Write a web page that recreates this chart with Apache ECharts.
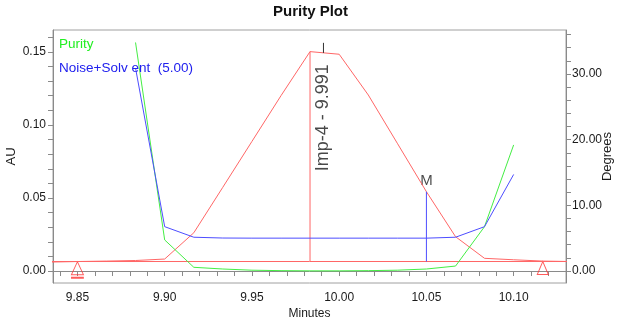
<!DOCTYPE html>
<html>
<head>
<meta charset="utf-8">
<script src="https://cdn.jsdelivr.net/npm/echarts@6/dist/echarts.min.js"></script>
<style>html,body{margin:0;padding:0;background:#fff}#c{width:621px;height:323px}</style>
</head>
<body>
<div id="c"></div>
<script>
// ---- data ----
const times = [9.8333, 9.85, 9.8667, 9.8833, 9.90, 9.9167, 9.9333, 9.95, 9.9667, 9.9833, 10.00, 10.0167, 10.0333, 10.05, 10.0667, 10.0833, 10.10, 10.1167, 10.1333];
const chromAU = [0.0061, 0.0065, 0.0068, 0.0072, 0.0082, 0.0262, 0.0573, 0.0887, 0.1201, 0.1502, 0.1484, 0.1205, 0.0875, 0.0543, 0.0235, 0.0087, 0.0077, 0.0068, 0.0065];
const purityTimes = [9.8833, 9.90, 9.9167, 9.9333, 9.95, 9.9667, 9.9833, 10.00, 10.0167, 10.0333, 10.05, 10.0667, 10.0833, 10.10];
const purityDeg = [34.8, 4.73, 0.56, 0.3, 0.12, 0.05, 0.02, 0.02, 0.05, 0.12, 0.3, 0.75, 6.75, 19.2];
const noiseDeg = [30.9, 6.75, 5.14, 5.02, 5.0, 5.0, 5.0, 5.0, 5.0, 5.0, 5.0, 5.14, 6.75, 14.7];
const baselineAU = 0.0065;
const peakStart = 9.85, peakEnd = 10.1167;
const apexTime = 9.9833;
const markTime = 10.05;
const peakName = 'Imp-4', peakRT = 9.991;
const peakLabelAU = 0.105, peakTickAU = [0.1493, 0.1562];
const xLabels = [9.85, 9.90, 9.95, 10.00, 10.05, 10.10];
const xTicks = [9.84,9.85,9.86,9.87,9.88,9.89,9.90,9.91,9.92,9.93,9.94,9.95,9.96,9.97,9.98,9.99,10.00,10.01,10.02,10.03,10.04,10.05,10.06,10.07,10.08,10.09,10.10,10.11,10.12,10.13];
const auLabels = [0.00, 0.05, 0.10, 0.15];
const auTicks = [0.00,0.01,0.02,0.03,0.04,0.05,0.06,0.07,0.08,0.09,0.10,0.11,0.12,0.13,0.14,0.15,0.16];
const degLabels = [0, 10, 20, 30];
const degTicks = [0,2,4,6,8,10,12,14,16,18,20,22,24,26,28,30,32,34,36];

// ---- chart ----
const narrow = "'Liberation Sans Narrow','Arial Narrow','Liberation Sans',Arial,sans-serif";
const reg = "'Liberation Sans',Arial,sans-serif";
const RED = '#ff6666', GREEN = '#44ee44', BLUE = '#4d4dff', AXIS = '#8a8a8a', TXT = '#1a1a1a';
const zip = (a, b) => a.map((v, i) => [v, b[i]]);
const auAt = t => chromAU[times.indexOf(t)];

const chart = echarts.init(document.getElementById('c'), null, {renderer: 'canvas'});
chart.setOption({
  animation: false,
  backgroundColor: '#fff',
  title: {text: 'Purity Plot', left: 'center', top: 4, padding: 0,
    textStyle: {fontFamily: narrow, fontSize: 15, fontWeight: 'bold', color: '#111'}},
  legend: {orient: 'vertical', left: 54, top: 37, padding: 0, itemGap: 10, itemWidth: 0, itemHeight: 0, icon: 'none',
    selectedMode: false,
    textStyle: {fontFamily: narrow, fontSize: 13.5},
    data: [{name: 'Purity', textStyle: {color: '#22ee22'}},
           {name: 'Noise+Solv ent  (5.00)', textStyle: {color: '#2020ee'}}]},
  grid: {left: 53, right: 55, top: 30, bottom: 40, outerBoundsMode: 'none', containLabel: false,
    show: true, borderColor: '#a0a0a0', borderWidth: 1, backgroundColor: 'transparent'},
  xAxis: {type: 'value', min: 9.836, max: 10.13,
    axisLine: {show: true, lineStyle: {color: AXIS}},
    axisTick: {show: true, customValues: xTicks, length: 5, lineStyle: {color: AXIS}},
    axisLabel: {customValues: xLabels, formatter: v => v.toFixed(2), margin: 9, fontSize: 12, color: TXT, fontFamily: narrow},
    splitLine: {show: false},
    name: 'Minutes', nameLocation: 'middle', nameGap: 25, nameMoveOverlap: false,
    nameTextStyle: {fontFamily: narrow, fontSize: 12, color: TXT}},
  yAxis: [
    {type: 'value', position: 'left', min: -0.0082, max: 0.165,
     axisLine: {show: true, lineStyle: {color: AXIS}},
     axisTick: {show: true, customValues: auTicks, length: 5, lineStyle: {color: AXIS}},
     axisLabel: {customValues: auLabels, formatter: v => v.toFixed(2), margin: 7, fontSize: 12, color: TXT, fontFamily: narrow},
     splitLine: {show: false},
     name: 'AU', nameLocation: 'middle', nameRotate: 90, nameGap: 35, nameMoveOverlap: false,
     nameTextStyle: {fontFamily: reg, fontSize: 13, color: TXT}},
    {type: 'value', position: 'right', min: -1.83, max: 36.7,
     axisLine: {show: true, lineStyle: {color: AXIS}},
     axisTick: {show: true, customValues: degTicks, length: 5, lineStyle: {color: AXIS}},
     axisLabel: {customValues: degLabels, formatter: v => v.toFixed(2), margin: 6, fontSize: 12, color: TXT, fontFamily: narrow},
     splitLine: {show: false},
     name: 'Degrees', nameLocation: 'middle', nameRotate: 90, nameGap: 35, nameMoveOverlap: false,
     nameTextStyle: {fontFamily: reg, fontSize: 13, color: TXT}}
  ],
  series: [
    {name: 'Baseline', type: 'line', yAxisIndex: 0, symbol: 'none', silent: true,
     data: [[times[0], baselineAU], [times[times.length - 1], baselineAU]],
     lineStyle: {color: RED, width: 1}},
    {name: 'Chromatogram', type: 'line', yAxisIndex: 0, symbol: 'none',
     data: zip(times, chromAU), lineStyle: {color: RED, width: 1}},
    {name: 'Apex', type: 'line', yAxisIndex: 0, symbol: 'none',
     data: [[apexTime, baselineAU], [apexTime, auAt(apexTime)]], lineStyle: {color: RED, width: 1}},
    {name: 'Purity', type: 'line', yAxisIndex: 1, symbol: 'none', color: GREEN,
     data: zip(purityTimes, purityDeg), lineStyle: {color: GREEN, width: 1}},
    {name: 'Noise+Solv ent  (5.00)', type: 'line', yAxisIndex: 1, symbol: 'none', color: BLUE,
     data: zip(purityTimes, noiseDeg), lineStyle: {color: BLUE, width: 1}},
    {name: 'Marker', type: 'line', yAxisIndex: 0, symbol: 'none',
     data: [[markTime, baselineAU], [markTime, auAt(markTime)]], lineStyle: {color: BLUE, width: 1}},
    {name: 'MarkerLabel', type: 'scatter', yAxisIndex: 0, symbolSize: 1, itemStyle: {color: 'rgba(0,0,0,0)'},
     data: [[markTime, auAt(markTime)]],
     label: {show: true, position: 'top', distance: 3, formatter: 'M', fontFamily: reg, fontSize: 15, color: TXT}},
    {name: 'PeakTick', type: 'line', yAxisIndex: 0, symbol: 'none',
     data: [[peakRT, peakTickAU[0]], [peakRT, peakTickAU[1]]], lineStyle: {color: '#333', width: 1}},
    {name: 'PeakLabel', type: 'scatter', yAxisIndex: 0, symbolSize: 1, itemStyle: {color: 'rgba(0,0,0,0)'},
     data: [[peakRT, peakLabelAU]],
     label: {show: true, position: 'inside', rotate: 90, formatter: peakName + ' - ' + peakRT.toFixed(3),
             fontFamily: reg, fontSize: 18, color: TXT}},
    {name: 'PeakEnds', type: 'scatter', yAxisIndex: 0,
     itemStyle: {color: 'rgba(0,0,0,0)', borderColor: '#ff3333', borderWidth: 1},
     data: [
       {value: [peakStart, baselineAU], symbol: 'path://M6,0 L12,13 L0,13 Z M0,15.5 L12,15.5 L12,16.5 L0,16.5 Z', symbolSize: [12, 16.5], symbolOffset: [0, 8.5]},
       {value: [peakEnd, baselineAU], symbol: 'path://M6,0 L12,13 L0,13 Z', symbolSize: [11, 13], symbolOffset: [0, 6.5]}
     ]}
  ]
});
</script>
</body>
</html>
